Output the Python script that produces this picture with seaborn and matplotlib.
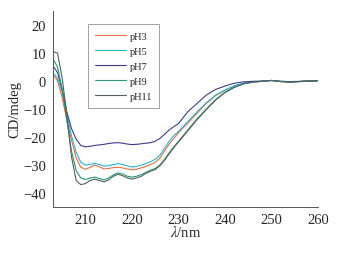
import pandas as pd
import seaborn as sns
import numpy as np
import matplotlib
matplotlib.use('Agg')
import matplotlib.pyplot as plt
from matplotlib.ticker import MultipleLocator

# wavelength (nm)
wl = [203, 204, 205, 206, 207, 208, 209, 210, 211, 212, 213, 214, 215, 216, 217,
      218, 219, 220, 221, 222, 223, 224, 225, 226, 227, 228, 229, 230, 232, 234,
      236, 238, 240, 242, 244, 246, 248, 250, 252, 254, 256, 258, 260]

# CD values (mdeg)
ph3 = [2.5, 0, -6, -14, -21, -27.5, -30.8, -31.5, -30.8, -30, -30.6, -31.4, -31.2, -30.9, -30.8,
       -31, -31.4, -31.7, -31.5, -31, -30.5, -29.8, -29, -27.5, -25, -22.5, -20.5, -18.5, -15, -11.5,
       -8, -5.2, -3.3, -1.8, -0.8, -0.3, -0.1, 0.2, -0.2, -0.4, -0.2, 0, 0.1]
ph5 = [3, 1, -4, -12, -19.5, -25.5, -29, -30, -29.8, -29.4, -29.8, -30.4, -30.2, -29.8, -29.5,
       -29.8, -30.3, -30.7, -30.5, -30, -29.5, -28.8, -27.9, -26.5, -24, -21.5, -19.5, -18, -14.5, -11,
       -7.7, -5, -3.2, -1.7, -0.8, -0.3, -0.1, 0.2, -0.1, -0.3, -0.2, 0, 0.1]
ph7 = [5.5, 3, -3, -11, -17, -20.7, -23, -23.5, -23.3, -23, -22.8, -22.6, -22.3, -22.1, -22,
       -22.2, -22.5, -22.7, -22.6, -22.4, -22.2, -22, -21.5, -20.5, -19, -17.5, -16.3, -15.2, -11, -8,
       -5, -3, -1.8, -0.8, -0.3, -0.1, 0, 0.2, -0.1, -0.2, -0.1, 0, 0.1]
ph9 = [8, 5, -3, -14, -25, -32, -34.6, -35.2, -34.6, -34.3, -34.8, -35.3, -34.6, -33.5, -32.8,
       -33.2, -34, -34.3, -34, -33.4, -32.6, -31.8, -31.2, -30, -28, -25.6, -23.5, -21.5, -17.5, -13.5,
       -10, -6.6, -4, -2.2, -1, -0.4, -0.1, 0.2, -0.2, -0.4, -0.2, 0, 0.1]
ph11 = [10.5, 10, 1, -12, -27, -35.5, -37, -36.6, -35.5, -35, -35.5, -36, -35.3, -34, -33.3,
        -33.8, -34.6, -35, -34.6, -34, -33, -32.2, -31.6, -30.3, -28.3, -26, -23.8, -21.8, -17.8, -13.8,
        -10.2, -6.8, -4.1, -2.3, -1, -0.4, -0.1, 0.2, -0.2, -0.4, -0.2, 0, 0.1]

labels = ['pH3', 'pH5', 'pH7', 'pH9', 'pH11']
colors = ['#e8703e', '#25b5d8', '#3d3b8c', '#259a72', '#56605d']

frames = []
for lab, vals in zip(labels, [ph3, ph5, ph7, ph9, ph11]):
    frames.append(pd.DataFrame({'wl': wl, 'cd': vals, 'sample': lab}))
df = pd.concat(frames, ignore_index=True)

sns.set_style('white')
plt.rcParams['font.family'] = ['Liberation Serif', 'DejaVu Serif']
plt.rcParams['mathtext.fontset'] = 'stix'

fig = plt.figure(figsize=(3.39, 2.55), dpi=100)
ax = fig.add_axes([0.156, 0.184, 0.782, 0.769])
sns.lineplot(data=df, x='wl', y='cd', hue='sample', palette=colors, linewidth=0.8, ax=ax)

ax.set_xlim(203, 260)
ax.set_ylim(-45, 25)
ax.xaxis.set_major_locator(MultipleLocator(10))
ax.xaxis.set_minor_locator(MultipleLocator(5))
ax.yaxis.set_major_locator(MultipleLocator(10))
ax.yaxis.set_minor_locator(MultipleLocator(5))
ax.tick_params(axis='x', which='both', direction='in', labelsize=10.5, color='#555555', pad=4)
ax.tick_params(axis='x', which='major', length=3, width=0.6)
ax.tick_params(axis='x', which='minor', length=2, width=0.6)
ax.tick_params(axis='y', which='both', direction='out', labelsize=10.5, color='#555555', pad=2)
ax.tick_params(axis='y', which='major', length=3, width=0.6)
ax.tick_params(axis='y', which='minor', length=2, width=0.6)
for s in ['top', 'right']:
    ax.spines[s].set_visible(False)
for s in ['left', 'bottom']:
    ax.spines[s].set_color('#555555')
    ax.spines[s].set_linewidth(0.7)

ax.set_xlabel(r'$\it{\lambda}$/nm', fontsize=10.5, labelpad=-1)
ax.set_ylabel('CD/mdeg', fontsize=10.5, labelpad=1)

leg = ax.legend(loc='upper left', bbox_to_anchor=(0.132, 0.934), borderaxespad=0,
                fontsize=7.5, frameon=True, fancybox=False, handlelength=3.0,
                labelspacing=0.55, borderpad=0.7, handletextpad=0.3)
leg.get_frame().set_edgecolor('#777777')
leg.get_frame().set_linewidth(0.6)
for line in leg.get_lines():
    line.set_linewidth(0.8)

fig.savefig('out.png', dpi=100)
